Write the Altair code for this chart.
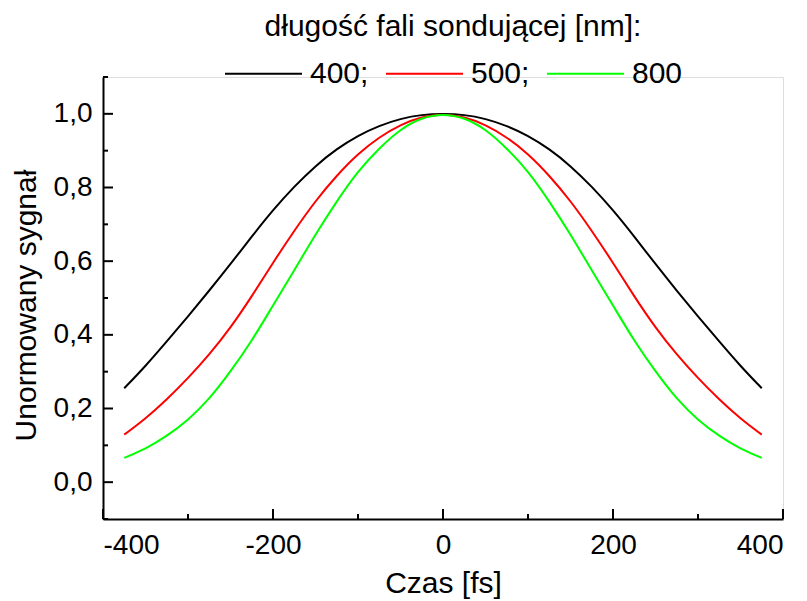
import altair as alt
import pandas as pd

# time axis [fs]
czas = [-375, -350, -325, -300, -275, -250, -225, -200, -175, -150, -125, -100, -75, -50, -25, 0,
        25, 50, 75, 100, 125, 150, 175, 200, 225, 250, 275, 300, 325, 350, 375]

# normalised signal
s400 = [0.255, 0.315, 0.382, 0.450, 0.520, 0.592, 0.667, 0.739, 0.803, 0.859, 0.905, 0.941, 0.968, 0.987, 0.998, 1.000,
        0.998, 0.987, 0.968, 0.941, 0.905, 0.859, 0.803, 0.739, 0.667, 0.592, 0.520, 0.450, 0.382, 0.315, 0.255]
s500 = [0.129, 0.172, 0.224, 0.282, 0.346, 0.419, 0.504, 0.596, 0.683, 0.764, 0.833, 0.892, 0.937, 0.971, 0.992, 1.000,
        0.992, 0.971, 0.937, 0.892, 0.833, 0.764, 0.683, 0.596, 0.504, 0.419, 0.346, 0.282, 0.224, 0.172, 0.129]
s800 = [0.066, 0.090, 0.125, 0.168, 0.225, 0.300, 0.383, 0.480, 0.575, 0.673, 0.763, 0.845, 0.907, 0.959, 0.990, 1.000,
        0.990, 0.959, 0.907, 0.845, 0.763, 0.673, 0.575, 0.480, 0.383, 0.300, 0.225, 0.168, 0.125, 0.090, 0.066]

series_names = ["400", "500", "800"]
series_colors = ["#000000", "#ff0000", "#00ff00"]

x_major = [-400, -200, 0, 200, 400]
x_minor = [-300, -100, 100, 300]
y_major = [0.0, 0.2, 0.4, 0.6, 0.8, 1.0]
y_minor = [-0.1, 0.1, 0.3, 0.5, 0.7, 0.9, 1.1]

FONT = "Liberation Sans"

rows = []
for name, vals in zip(series_names, [s400, s500, s800]):
    for t, v in zip(czas, vals):
        rows.append({"t": t, "v": v, "wl": name})
df = pd.DataFrame(rows)

xscale = alt.Scale(domain=[-400, 400], nice=False, zero=False)
yscale = alt.Scale(domain=[-0.1, 1.1], nice=False, zero=False)

xaxis = alt.Axis(values=x_major, title="Czas [fs]", labelExpr="'' + datum.value",
                 titleY=73, titleBaseline="alphabetic")
yaxis = alt.Axis(values=y_major, title="Unormowany sygnał",
                 labelExpr="replace(format(datum.value, '.1f'), '.', ',')",
                 titleX=-68, titleY=228, titleBaseline="alphabetic")

lines = alt.Chart(df).mark_line(strokeWidth=2, interpolate="basis").encode(
    x=alt.X("t:Q", scale=xscale, axis=xaxis),
    y=alt.Y("v:Q", scale=yscale, axis=yaxis),
    color=alt.Color("wl:N", scale=alt.Scale(domain=series_names, range=series_colors),
                    legend=alt.Legend(title="długość fali sondującej [nm]:", orient="none",
                                      legendX=121, legendY=-65, direction="horizontal",
                                      titleAnchor="middle", titleFont=FONT, titleFontSize=30,
                                      titleFontWeight="normal", titleColor="black", titlePadding=-8,
                                      titleLimit=0, labelLimit=0,
                                      labelFont=FONT, labelFontSize=30, labelColor="black",
                                      labelExpr="datum.label == '800' ? datum.label : datum.label + ';'",
                                      symbolType="stroke", symbolSize=5929, symbolStrokeWidth=2,
                                      labelOffset=7, columnPadding=13, padding=0)),
)

ymaj = alt.Chart(pd.DataFrame({"v": y_major})).mark_rule(color="black", strokeWidth=2).encode(
    y=alt.Y("v:Q", scale=yscale, axis=yaxis), x=alt.value(0), x2=alt.value(10))
ymin = alt.Chart(pd.DataFrame({"v": y_minor})).mark_rule(color="black", strokeWidth=2).encode(
    y=alt.Y("v:Q", scale=yscale, axis=yaxis), x=alt.value(0), x2=alt.value(5))
xmaj = alt.Chart(pd.DataFrame({"t": x_major})).mark_rule(color="black", strokeWidth=2).encode(
    x=alt.X("t:Q", scale=xscale, axis=xaxis), y=alt.value(442), y2=alt.value(432))
xmin = alt.Chart(pd.DataFrame({"t": x_minor})).mark_rule(color="black", strokeWidth=2).encode(
    x=alt.X("t:Q", scale=xscale, axis=xaxis), y=alt.value(442), y2=alt.value(437))

chart = alt.layer(lines, ymaj, ymin, xmaj, xmin).properties(
    width=680, height=442,
    padding={"left": 103, "top": 77, "right": 24, "bottom": 82},
    autosize=alt.AutoSizeParams(type="none"),
).configure_view(stroke=None).configure(background="white").configure_axis(
    ticks=False, tickSize=0, grid=False, domainColor="black", domainWidth=2,
    labelFont=FONT, labelFontSize=28, labelColor="black",
    titleFont=FONT, titleFontSize=30, titleFontWeight="normal", titleColor="black",
).configure_axisX(labelPadding=12).configure_axisY(labelPadding=11)

chart.save("out.html", embed_options={"renderer": "svg", "actions": False})
